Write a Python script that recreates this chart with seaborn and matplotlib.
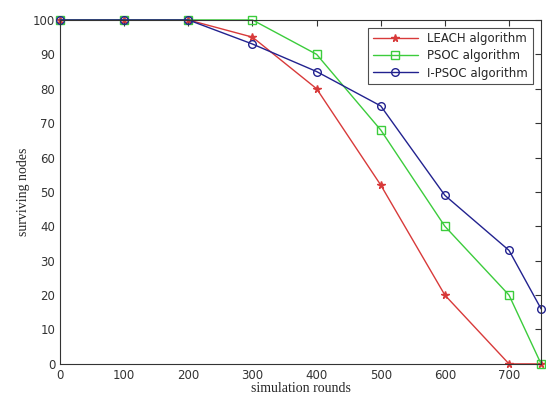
import matplotlib
matplotlib.use('Agg')
import matplotlib.pyplot as plt
import seaborn as sns
import pandas as pd

# Data
rounds = [0, 100, 200, 300, 400, 500, 600, 700, 750]
leach = [100, 100, 100, 95, 80, 52, 20, 0, 0]
psoc = [100, 100, 100, 100, 90, 68, 40, 20, 0]
ipsoc = [100, 100, 100, 93, 85, 75, 49, 33, 16]
names = ['LEACH algorithm', 'PSOC algorithm', 'I-PSOC algorithm']

df = pd.DataFrame({'rounds': rounds * 3,
                   'nodes': leach + psoc + ipsoc,
                   'algo': [names[0]] * 9 + [names[1]] * 9 + [names[2]] * 9})

sns.set_style('white')
plt.rcParams['font.family'] = ['DejaVu Sans']

fig = plt.figure(figsize=(5.46, 3.99), dpi=100)
ax = fig.add_axes([0.11, 0.088, 0.881, 0.862])

palette = {names[0]: '#d83a3a', names[1]: '#3ccc3c', names[2]: '#22228f'}
markers = {names[0]: '*', names[1]: 's', names[2]: 'o'}
for name in names:
    sub = df[df['algo'] == name]
    sns.lineplot(data=sub, x='rounds', y='nodes', ax=ax, color=palette[name],
                 marker=markers[name], markersize=5.5,
                 markerfacecolor='none' if name != names[0] else palette[name],
                 markeredgecolor=palette[name], markeredgewidth=1,
                 linewidth=1, label=name, clip_on=False)

ax.set_xlim(0, 750)
ax.set_ylim(0, 100)
ax.set_xticks(range(0, 701, 100))
ax.set_yticks(range(0, 101, 10))
ax.tick_params(direction='in', top=True, right=True, length=4, labelsize=8.5, colors='#333333')
for s in ax.spines.values():
    s.set_color('#333333')
    s.set_linewidth(0.8)

ax.set_xlabel('simulation rounds', family='Liberation Serif', fontsize=10, labelpad=0)
ax.set_ylabel('surviving nodes', family='Liberation Serif', fontsize=10, labelpad=2)

leg = ax.legend(loc='upper right', fontsize=8.5, frameon=True, fancybox=False,
                edgecolor='#222222', borderpad=0.4, handlelength=3.8, labelspacing=0.35,
                bbox_to_anchor=(0.995, 0.995))
leg.get_frame().set_linewidth(0.8)

fig.savefig('out.png', dpi=100)
